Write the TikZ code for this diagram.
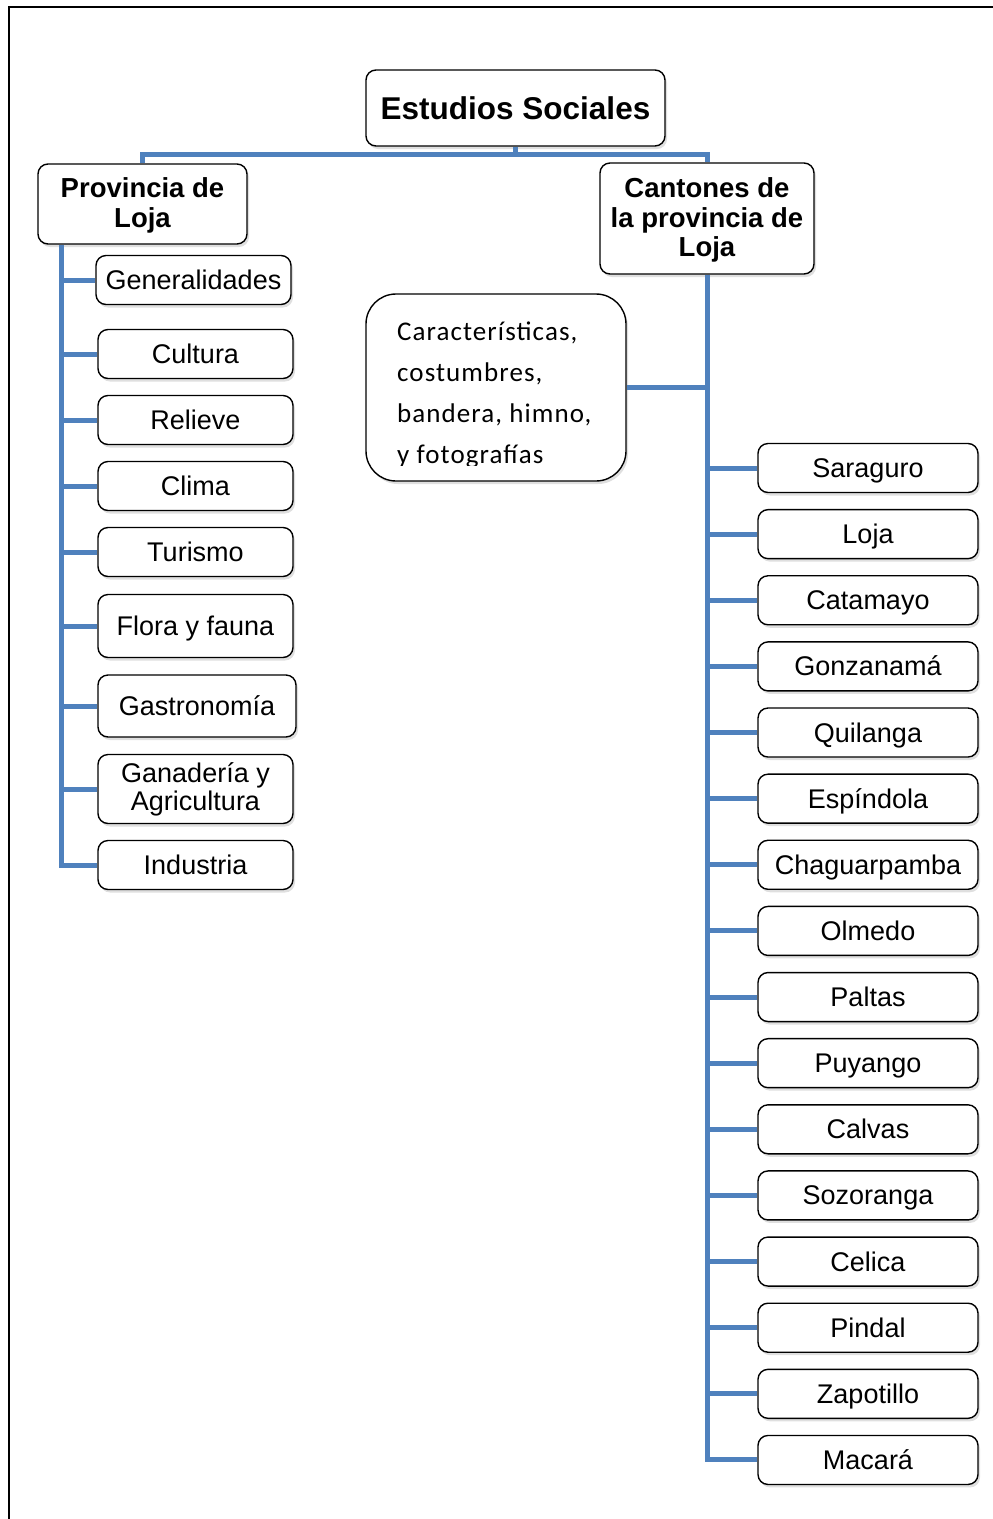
\documentclass[tikz,border=0pt]{standalone}
\usepackage{fontspec}
\setmainfont{Liberation Sans}
\newfontfamily\calfont[LetterSpace=4]{Carlito}
\usetikzlibrary{shadows,calc}
\definecolor{ofblue}{HTML}{4F81BD}
\begin{document}
\begin{tikzpicture}[x=1pt,y=-1pt,
  box/.style={draw=black,line width=1.4pt,rounded corners=10pt,fill=white,align=center,inner sep=2pt,
    drop shadow={shadow xshift=2pt,shadow yshift=-3pt,opacity=0.25}},
  kid/.style={box,font=\fontsize{27}{28}\selectfont,minimum width=195pt,minimum height=49pt,text height=22pt,text depth=3pt},
  rkid/.style={kid,minimum width=220pt},
  head/.style={box,font=\bfseries\fontsize{27.5}{29.5}\selectfont},
  conn/.style={draw=ofblue,line width=5pt,line join=miter}]
\useasboundingbox (0,0) rectangle (993,1519);
\draw[line width=2.5pt] (993,7) -- (9,7) -- (9,1519);

% top level
\node[box,font=\bfseries\fontsize{31.5}{33}\selectfont,minimum width=299pt,minimum height=76pt] (root) at (515.5,108) {Estudios Sociales};
\node[head,minimum width=209pt,minimum height=80pt] (prov) at (142.5,204) {\rule{0pt}{23pt}Provincia de\\Loja};
\node[head,minimum width=214pt,minimum height=111pt] (cant) at (707,218.5) {\rule{0pt}{23pt}Cantones de\\la provincia de\\Loja};

% left children
\node[kid] (gen) at (193.5,280) {Generalidades};
\node[kid] (cul) at (195.5,354) {Cultura};
\node[kid] (rel) at (195.5,420) {Relieve};
\node[kid] (cli) at (195.5,486) {Clima};
\node[kid] (tur) at (195.5,552) {Turismo};
\node[kid,minimum height=63pt] (flo) at (195.5,626) {Flora y fauna};
\node[kid,minimum width=198pt,minimum height=62pt] (gas) at (197,706) {Gastronomía};
\node[box,font=\fontsize{27}{28}\selectfont,minimum width=195pt,minimum height=69pt] (gan) at (195.5,789) {Ganadería y\\Agricultura};
\node[kid] (ind) at (195.5,865) {Industria};

% characteristics box
\node[box,rounded corners=30pt,minimum width=260pt,minimum height=187pt] (car) at (496,387.5) {};
\begin{scope}
  \clip (366,294) rectangle (626,465);
  \node[anchor=north west,align=left,inner sep=0pt,font=\calfont\fontsize{27}{41}\selectfont] (cartxt) at (397,322)
    {Características,\\costumbres,\\bandera, himno,\\y fotografías};
\end{scope}

% right children
\foreach \n/\t [count=\i from 0] in {sar/Saraguro,loj/Loja,cat/Catamayo,gon/Gonzanamá,qui/Quilanga,esp/Espíndola,cha/Chaguarpamba,olm/Olmedo,pal/Paltas,puy/Puyango,cal/Calvas,soz/Sozoranga,cel/Celica,pin/Pindal,zap/Zapotillo,mac/Macará}
  \node[rkid] (\n) at (868,{468+66.13*\i}) {\t};

% connectors
\draw[conn] (prov.north) |- ($(root.south)+(0,8)$) -| (cant.north);
\draw[conn] (root.south) -- ($(root.south)+(0,8)$);
\coordinate (ls) at ($(prov.south west)+(24,0)$);
\draw[conn] (ls) |- (ind.west);
\foreach \n in {gen,cul,rel,cli,tur,flo,gas,gan}
  \draw[conn] (\n.west) -- (\n.west -| ls);
\draw[conn] (cant.south) |- (mac.west);
\draw[conn] (car.east) -- (car.east -| cant.south);
\foreach \n in {sar,loj,cat,gon,qui,esp,cha,olm,pal,puy,cal,soz,cel,pin,zap}
  \draw[conn] (\n.west) -- (\n.west -| cant.south);
\end{tikzpicture}
\end{document}
